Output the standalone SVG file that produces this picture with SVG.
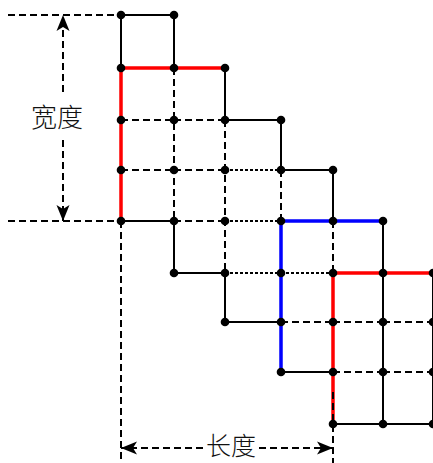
<svg xmlns="http://www.w3.org/2000/svg" width="433" height="463" viewBox="0 0 433 463">
<style>
.solid{stroke:#000;stroke-width:2;fill:none}
.dash{stroke:#000;stroke-width:2;stroke-dasharray:7 4;fill:none}
.dot{stroke:#000;stroke-width:2;stroke-dasharray:3 2;fill:none}
.red{stroke:#ff0000;stroke-width:3.5;fill:none}
.blue{stroke:#0000ff;stroke-width:3.5;fill:none}
.node{fill:#000}
.lbl{font-family:"Noto Sans CJK SC","Noto Sans CJK JP",sans-serif;font-size:26px;font-weight:300;fill:#111;text-anchor:middle}
</style>
<defs>
<marker id="ah" viewBox="-17 -8 18 16" markerWidth="18" markerHeight="16" refX="0" refY="0" orient="auto" markerUnits="userSpaceOnUse">
<path d="M0,0 L-16,-6.5 L-12,0 L-16,6.5 z" fill="#000"/>
</marker>
</defs>
<g id="connectors">
<path class="dash" d="M121,120H174M174,120H225M121,170H174M174,170H225M174,221H225M281,322H333M333,322H383M383,322H433M333,372H383M383,372H433M174,68V221M225,120V273M281,170V221M333,221V273"/>
<path class="dot" d="M225,170H281M225,221H281M225,273H281M281,273H333"/>
<path class="solid" d="M121,15H174M121,15V68M174,15V68M225,68V120H281V170H333V221M121,221H174V273H225V322H281M281,372H333M333,424H433M383,221V424M433,273V424"/>
<path class="red" d="M121,221V68H225M333,424V273H433"/>
<path class="blue" d="M281,372V221H383"/>
<path class="dash" d="M8,15H121M8,221H121M121,221V463M333,392V463"/>
<line class="dash" x1="63" y1="92" x2="63" y2="15" marker-end="url(#ah)"/>
<line class="dash" x1="63" y1="140" x2="63" y2="221" marker-end="url(#ah)"/>
<line class="dash" x1="203" y1="448" x2="121" y2="448" marker-end="url(#ah)"/>
<line class="dash" x1="259" y1="448" x2="333" y2="448" marker-end="url(#ah)"/>
</g>
<g id="labels">
<text id="width-label" class="lbl" x="57" y="127">宽度</text>
<text id="length-label" class="lbl" x="231" y="455" style="font-size:25px">长度</text>
</g>
<g id="nodes">
<g id="n00"><circle class="node" cx="121" cy="15" r="4.3"/></g>
<g id="n10"><circle class="node" cx="174" cy="15" r="4.3"/></g>
<g id="n01"><circle class="node" cx="121" cy="68" r="4.3"/></g>
<g id="n11"><circle class="node" cx="174" cy="68" r="4.3"/></g>
<g id="n21"><circle class="node" cx="225" cy="68" r="4.3"/></g>
<g id="n02"><circle class="node" cx="121" cy="120" r="4.3"/></g>
<g id="n12"><circle class="node" cx="174" cy="120" r="4.3"/></g>
<g id="n22"><circle class="node" cx="225" cy="120" r="4.3"/></g>
<g id="n32"><circle class="node" cx="281" cy="120" r="4.3"/></g>
<g id="n03"><circle class="node" cx="121" cy="170" r="4.3"/></g>
<g id="n13"><circle class="node" cx="174" cy="170" r="4.3"/></g>
<g id="n23"><circle class="node" cx="225" cy="170" r="4.3"/></g>
<g id="n33"><circle class="node" cx="281" cy="170" r="4.3"/></g>
<g id="n43"><circle class="node" cx="333" cy="170" r="4.3"/></g>
<g id="n04"><circle class="node" cx="121" cy="221" r="4.3"/></g>
<g id="n14"><circle class="node" cx="174" cy="221" r="4.3"/></g>
<g id="n24"><circle class="node" cx="225" cy="221" r="4.3"/></g>
<g id="n34"><circle class="node" cx="281" cy="221" r="4.3"/></g>
<g id="n44"><circle class="node" cx="333" cy="221" r="4.3"/></g>
<g id="n54"><circle class="node" cx="383" cy="221" r="4.3"/></g>
<g id="n15"><circle class="node" cx="174" cy="273" r="4.3"/></g>
<g id="n25"><circle class="node" cx="225" cy="273" r="4.3"/></g>
<g id="n35"><circle class="node" cx="281" cy="273" r="4.3"/></g>
<g id="n45"><circle class="node" cx="333" cy="273" r="4.3"/></g>
<g id="n55"><circle class="node" cx="383" cy="273" r="4.3"/></g>
<g id="n65"><circle class="node" cx="433" cy="273" r="4.3"/></g>
<g id="n26"><circle class="node" cx="225" cy="322" r="4.3"/></g>
<g id="n36"><circle class="node" cx="281" cy="322" r="4.3"/></g>
<g id="n46"><circle class="node" cx="333" cy="322" r="4.3"/></g>
<g id="n56"><circle class="node" cx="383" cy="322" r="4.3"/></g>
<g id="n66"><circle class="node" cx="433" cy="322" r="4.3"/></g>
<g id="n37"><circle class="node" cx="281" cy="372" r="4.3"/></g>
<g id="n47"><circle class="node" cx="333" cy="372" r="4.3"/></g>
<g id="n57"><circle class="node" cx="383" cy="372" r="4.3"/></g>
<g id="n67"><circle class="node" cx="433" cy="372" r="4.3"/></g>
<g id="n48"><circle class="node" cx="333" cy="424" r="4.3"/></g>
<g id="n58"><circle class="node" cx="383" cy="424" r="4.3"/></g>
<g id="n68"><circle class="node" cx="433" cy="424" r="4.3"/></g>
</g>
</svg>
